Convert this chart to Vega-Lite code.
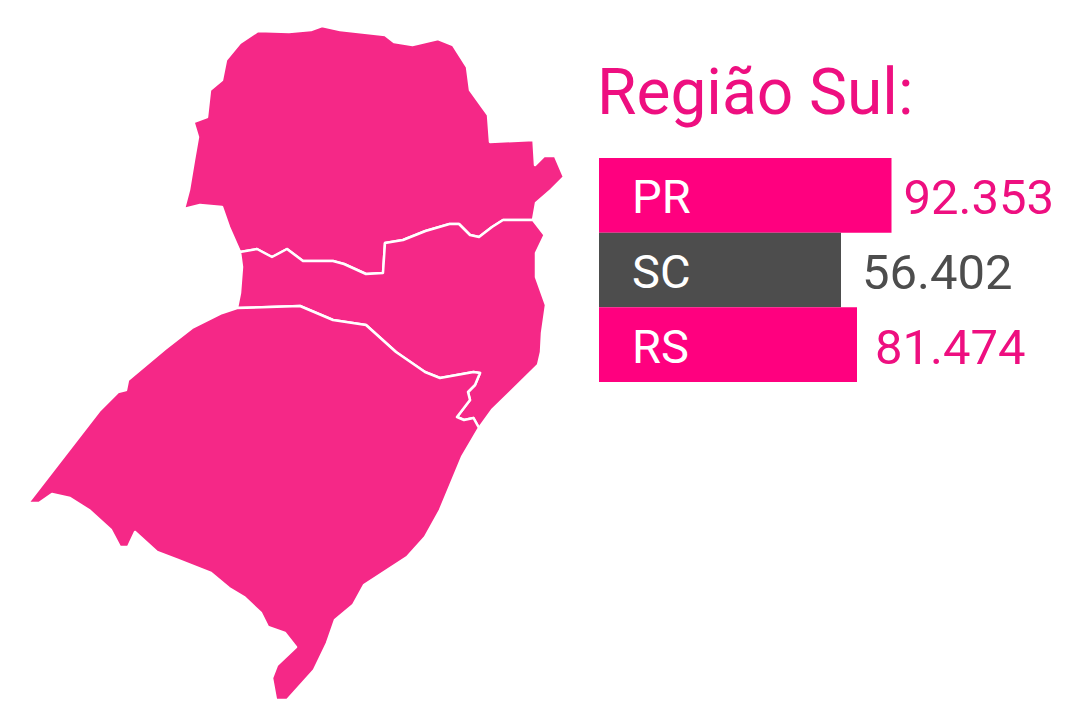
{
"$schema":"https://vega.github.io/schema/vega-lite/v6.json",
"width":1066,"height":701,"padding":0,"autosize":{"type":"none"},
"background":"#ffffff",
"config":{"view":{"stroke":null}},
"title":{"text":"Região Sul:","anchor":"start","frame":"group","orient":"top","offset":0,"dx":597,"dy":178,"baseline":"alphabetic","font":"Roboto","fontSize":64,"fontWeight":"normal","color":"#ee0f80"},
"datasets":{"barras":[
{"uf":"PR","valor":"92.353","comprimento":292.5},
{"uf":"SC","valor":"56.402","comprimento":242},
{"uf":"RS","valor":"81.474","comprimento":258}
]},
"layer":[
{"data":{"values":[
{"type":"Feature","properties":{"uf":"PR"},"geometry":{"type":"Polygon","coordinates":[[[240,252],[229,227],[222,207],[200,205],[184,209],[189,190],[194,160],[198,137],[193.5,122],[207,117],[210,90],[222,80],[226,60],[240,43],[258,31],[289,32],[311,30],[322,26],[340,30],[385,35],[394,42],[412.5,45],[438,39],[453,45],[467,67],[470,90],[488,115],[490,142],[533.5,140],[535,165],[544,156],[555,156],[564,177],[551,190],[536,203],[533,220],[503,220],[492,227],[479,237],[470,235],[459,224],[449.5,224],[425.5,231],[403,240],[385,243],[383,273],[366,274],[344,264],[333,261],[303,261],[287,249],[272,257],[257,249],[240,252]]]}},
{"type":"Feature","properties":{"uf":"SC"},"geometry":{"type":"Polygon","coordinates":[[[240,252],[257,249],[272,257],[287,249],[303,261],[333,261],[344,264],[366,274],[383,273],[385,243],[403,240],[425.5,231],[449.5,224],[459,224],[470,235],[479,237],[492,227],[503,220],[533,220],[544.6,235],[536,253],[536,277],[546,305],[542,333],[541,352],[538,365],[510.5,392],[492,410],[479,428],[473.5,418],[464,420],[457,417],[470,400],[468,392],[475,385],[480,373],[473.5,372],[440,378],[425,372],[396,352],[366,325],[333,320],[300,306],[237,308],[240,293],[242,267],[240,252]]]}},
{"type":"Feature","properties":{"uf":"RS"},"geometry":{"type":"Polygon","coordinates":[[[237,308],[222,313],[192,328],[165,349],[128,380],[126,390],[118,392],[100,410],[28,503],[39,503],[52,494],[70,498],[89,510],[111,530],[120,547],[128,547],[135,532],[157,552],[178,560],[211,573],[229,588],[244,597],[261,613],[268,627],[285,633],[296,647],[277,665],[272,678],[276,700],[287,700],[314,670],[327,643],[335,620],[353,605],[364,585],[407,557],[425,537],[440,510],[462,457],[479,428],[473.5,418],[464,420],[457,417],[470,400],[468,392],[475,385],[480,373],[473.5,372],[440,378],[425,372],[396,352],[366,325],[333,320],[300,306],[237,308]]]}}
]},
"projection":{"type":"identity","scale":1,"translate":[0,0]},
"mark":{"type":"geoshape","fill":"#f52887","stroke":"#ffffff","strokeWidth":2.5,"strokeJoin":"round"},
"encoding":{}
},
{"data":{"name":"barras"},
"mark":{"type":"bar"},
"encoding":{
"y":{"field":"uf","type":"nominal","axis":null,"sort":null,"scale":{"domain":["PR","SC","RS"],"range":[158,382],"paddingInner":0,"paddingOuter":0}},
"x":{"field":"comprimento","type":"quantitative","axis":null,"scale":{"domain":[-599,467],"range":[0,1066],"nice":false,"zero":false}},
"x2":{"datum":0},
"color":{"field":"uf","type":"nominal","legend":null,"scale":{"domain":["PR","SC","RS"],"range":["#ff007f","#4d4d4d","#ff007f"]}}
}},
{"data":{"name":"barras"},
"mark":{"type":"text","align":"left","baseline":"middle","font":"Roboto","fontSize":47,"dy":4,"fill":"#ffffff"},
"encoding":{
"y":{"field":"uf","type":"nominal"},
"x":{"datum":33,"type":"quantitative"},
"text":{"field":"uf"}
}},
{"data":{"name":"barras"},"transform":[{"filter":"datum.uf=='PR'"}],
"mark":{"type":"text","align":"left","baseline":"middle","font":"Roboto","fontSize":49,"dx":12,"dy":4,"fill":"#ee0f80"},
"encoding":{"y":{"field":"uf","type":"nominal"},"x":{"field":"comprimento","type":"quantitative"},"text":{"field":"valor"}}},
{"data":{"name":"barras"},"transform":[{"filter":"datum.uf=='SC'"}],
"mark":{"type":"text","align":"left","baseline":"middle","font":"Roboto","fontSize":49,"dx":21,"dy":4,"fill":"#4d4d4d"},
"encoding":{"y":{"field":"uf","type":"nominal"},"x":{"field":"comprimento","type":"quantitative"},"text":{"field":"valor"}}},
{"data":{"name":"barras"},"transform":[{"filter":"datum.uf=='RS'"}],
"mark":{"type":"text","align":"left","baseline":"middle","font":"Roboto","fontSize":49,"dx":18,"dy":4,"fill":"#ee0f80"},
"encoding":{"y":{"field":"uf","type":"nominal"},"x":{"field":"comprimento","type":"quantitative"},"text":{"field":"valor"}}}
]
}
